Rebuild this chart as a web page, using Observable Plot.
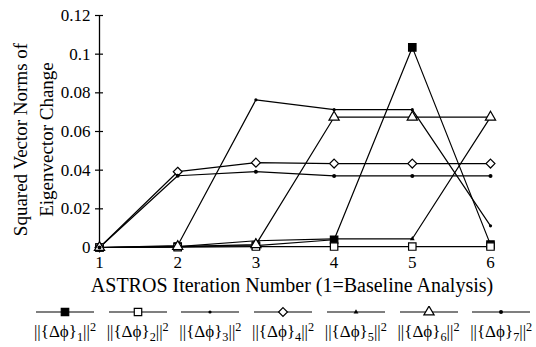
<!DOCTYPE html>
<html><head><meta charset="utf-8">
<script src="https://cdn.jsdelivr.net/npm/d3@7"></script>
<script src="https://cdn.jsdelivr.net/npm/@observablehq/plot@0.6"></script>
<style>
html,body{margin:0;padding:0;background:#fff;}
body{font-family:"Liberation Serif","Times New Roman",serif;color:#000;width:536px;height:347px;overflow:hidden;}
#legend{position:relative;height:47px;width:536px;}
.item{position:absolute;top:0;width:73px;text-align:center;}
.item svg{display:block;margin:6px auto 0 auto;}
.lab{font-size:17px;line-height:18px;margin-top:5px;white-space:nowrap;}
.lab sub{font-size:0.72em;vertical-align:-0.3em;line-height:0;}
.lab sup{font-size:0.72em;vertical-align:0.5em;line-height:0;}
</style></head>
<body><div id="chart"></div><div id="legend"></div>
<script>
// ---- data ----
const iterations = [1, 2, 3, 4, 5, 6];
const phi1 = [0, 0.0005, 0.001, 0.004, 0.1035, 0.0015];
const phi2 = [0, 0.0002, 0.0005, 0.0005, 0.0005, 0.0005];
const phi3 = [0, 0.001, 0.0764, 0.0713, 0.0713, 0.0112];
const phi4 = [0, 0.0392, 0.0439, 0.0434, 0.0434, 0.0434];
const phi5 = [0, 0.0005, 0.0035, 0.0045, 0.0045, 0.0674];
const phi6 = [0, 0.0005, 0.0015, 0.0674, 0.0674, 0.0674];
const phi7 = [0, 0.0371, 0.0392, 0.0370, 0.0370, 0.0370];
const seriesKeys = ["1", "2", "3", "4", "5", "6", "7"];
const seriesValues = [phi1, phi2, phi3, phi4, phi5, phi6, phi7];
const yTicks = [0, 0.02, 0.04, 0.06, 0.08, 0.1, 0.12];
const xTitle = "ASTROS Iteration Number (1=Baseline Analysis)";
const yTitle = "Squared Vector Norms of\nEigenvector Change";

// ---- styles ----
const styles = {
  "1": {symbol: "square", fill: "black", stroke: "black", r: 4.2},
  "2": {symbol: "square", fill: "white", stroke: "black", r: 4.2},
  "3": {symbol: "circle", fill: "black", stroke: "none", r: 1.6},
  "4": {symbol: "diamond2", fill: "white", stroke: "black", r: 4.0},
  "5": {symbol: "triangle", fill: "black", stroke: "none", r: 1.8},
  "6": {symbol: "triangle", fill: "white", stroke: "black", r: 3.8},
  "7": {symbol: "circle", fill: "black", stroke: "none", r: 2}
};

const rows = [];
seriesKeys.forEach((k, i) => iterations.forEach((it, j) => rows.push({series: k, iter: it, value: seriesValues[i][j]})));

const font = "Liberation Serif, Times New Roman, serif";
const marks = [
  Plot.ruleX([1], {y1: 0, y2: 0.12, stroke: "black", strokeWidth: 1.3}),
  Plot.axisY({ticks: yTicks, tickSize: 8, dx: 4, text: null, label: null, strokeWidth: 1.2}),
  Plot.axisY({ticks: yTicks, tickSize: 0, tickPadding: 9, tickFormat: d => String(+d.toFixed(2)), fontSize: 17, label: null}),
  Plot.axisX({ticks: iterations, tickSize: 0, tickPadding: 8, tickFormat: d => String(d), fontSize: 17, label: null}),
  Plot.text([yTitle], {frameAnchor: "left", textAnchor: "middle", rotate: -90, dx: -68, dy: 8, fontSize: 19, lineHeight: 1.38, fontFamily: font}),
  Plot.text([xTitle], {frameAnchor: "bottom", lineAnchor: "middle", dy: 38, dx: -3, fontSize: 20, fontFamily: font})
];
seriesKeys.forEach(k => {
  marks.push(Plot.line(rows.filter(d => d.series === k), {x: "iter", y: "value", stroke: "black", strokeWidth: 1.2}));
});
seriesKeys.forEach(k => {
  const s = styles[k];
  marks.push(Plot.dot(rows.filter(d => d.series === k), {x: "iter", y: "value", symbol: s.symbol, fill: s.fill, stroke: s.stroke, r: s.r, strokeWidth: 1.2}));
});

const chart = Plot.plot({
  width: 536, height: 300,
  marginLeft: 99, marginRight: 46, marginTop: 15, marginBottom: 53,
  style: {fontFamily: font, fontSize: "16px", color: "black", background: "white", overflow: "visible"},
  x: {domain: [1, 6], axis: null},
  y: {domain: [0, 0.12], axis: null},
  marks
});
document.getElementById("chart").appendChild(chart);

// ---- legend ----
const symbolMap = {square: d3.symbolSquare, circle: d3.symbolCircle, diamond2: d3.symbolDiamond2, triangle: d3.symbolTriangle};
const legend = d3.select("#legend");
const step = 72.7, firstCenter = 65;
seriesKeys.forEach((k, i) => {
  const s = styles[k];
  const item = legend.append("div").attr("class", "item").style("left", (firstCenter + i * step - 36.5) + "px");
  const svg = item.append("svg").attr("width", 60).attr("height", 12);
  svg.append("line").attr("x1", 1).attr("x2", 59).attr("y1", 6).attr("y2", 6).attr("stroke", "black").attr("stroke-width", 1.2);
  svg.append("path").attr("transform", "translate(30,6)")
    .attr("d", d3.symbol(symbolMap[s.symbol], Math.PI * s.r * s.r)())
    .attr("fill", s.fill).attr("stroke", s.stroke).attr("stroke-width", 1.2);
  item.append("div").attr("class", "lab").html(`||{Δϕ}<sub>${k}</sub>||<sup>2</sup>`);
});
</script></body></html>
